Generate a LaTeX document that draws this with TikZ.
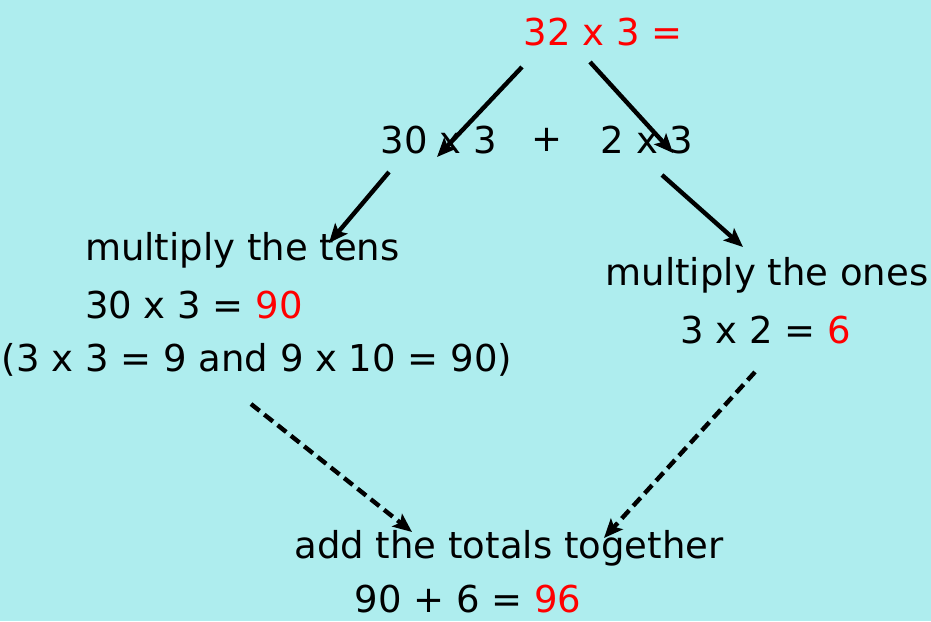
\documentclass[tikz,border=0pt]{standalone}
\usepackage{fontspec}
\setmainfont{DejaVu Sans}
\usetikzlibrary{arrows.meta}
\definecolor{sky}{HTML}{AEEDEE}
\definecolor{ans}{HTML}{FF0000}
\tikzset{
  txt/.style={inner sep=0pt,font=\fontsize{37}{44}\selectfont},
  link/.style={line width=4.4pt,-{Stealth[length=19pt,width=16pt,inset=4pt]}},
  sum/.style={link,dashed,dash pattern=on 11pt off 6pt}
}

\begin{document}
\begin{tikzpicture}[x=1pt,y=-1pt]
  \fill[sky] (0,0) rectangle (931,621);
  \useasboundingbox (0,0) rectangle (931,621);
  \node[txt,text=ans] (top) at (603,32) {32 x 3 =};
  \node[txt] (tens) at (439,140) {30 x 3};
  \node[txt] (plus) at (547,140) {+};
  \node[txt] (ones) at (647,140) {2 x 3};
  \node[txt,anchor=west] (mt) at (85,250) {multiply the tens};
  \node[txt,anchor=west] (mt2) at (85,305) {30 x 3 = \textcolor{ans}{90}};
  \node[txt] (mt3) at (257,360) {(3 x 3 = 9 and 9 x 10 = 90)};
  \node[txt] (mo) at (767,275) {multiply the ones};
  \node[txt] (mo2) at (766,330) {3 x 2 = \textcolor{ans}{6}};
  \node[txt] (add) at (509,548) {add the totals together};
  \node[txt] (add2) at (468,599) {90 + 6 = \textcolor{ans}{96}};
  \coordinate (A) at (522,67);
  \coordinate (B) at (437,157);
  \coordinate (C) at (590,62);
  \coordinate (D) at (673,153);
  \coordinate (E) at (389,172);
  \coordinate (F) at (329,243);
  \coordinate (G) at (662,175);
  \coordinate (H) at (743,247);
  \coordinate (I) at (251,404);
  \coordinate (J) at (412,532);
  \coordinate (K) at (755,372);
  \coordinate (L) at (604,538);
  \draw[link] (A) -- (B);
  \draw[link] (C) -- (D);
  \draw[link] (E) -- (F);
  \draw[link] (G) -- (H);
  \draw[sum] (I) -- (J);
  \draw[sum] (K) -- (L);
\end{tikzpicture}
\end{document}
